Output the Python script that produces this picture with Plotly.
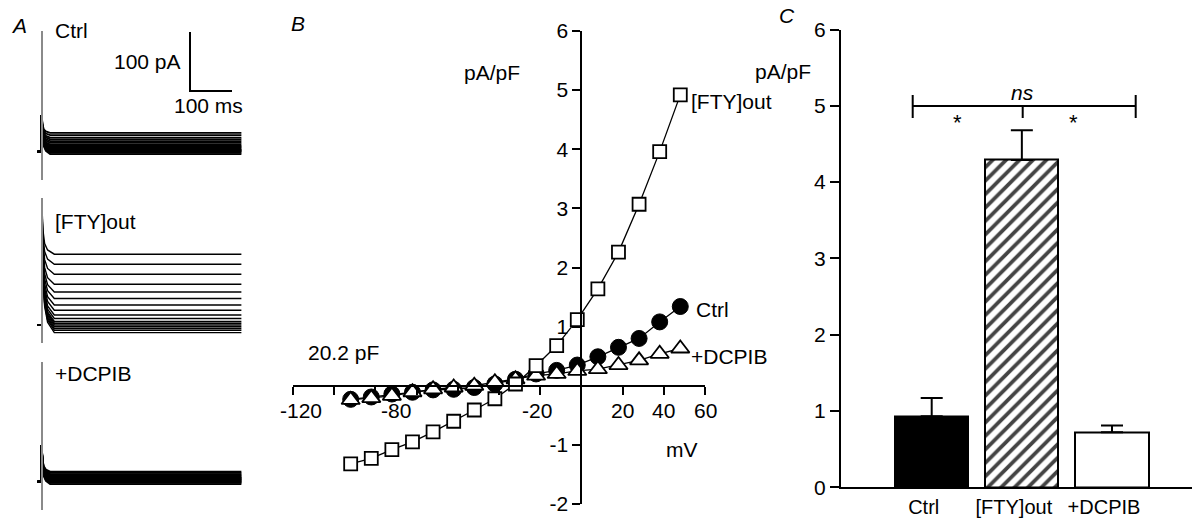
import plotly.graph_objects as go

W, H = 1192, 521
FONT = "Liberation Sans, Arial, sans-serif"
FS = 21

# ---------------- Panel B: current-voltage relation (pA/pF) ----------------
voltage_mV = [-112, -102, -92, -82, -72, -62, -52, -42, -32, -22, -12, -2, 8, 18, 28, 38, 48]
iv_ctrl = [-0.23, -0.19, -0.14, -0.11, -0.07, -0.06, -0.03, 0.03, 0.11, 0.20, 0.26, 0.35, 0.49, 0.65, 0.80, 1.08, 1.34]
iv_fty = [-1.32, -1.23, -1.08, -0.95, -0.78, -0.60, -0.41, -0.22, 0.03, 0.34, 0.68, 1.12, 1.64, 2.26, 3.07, 3.96, 4.92]
iv_dcpib = [-0.24, -0.21, -0.17, -0.11, -0.06, -0.03, 0.00, 0.06, 0.11, 0.17, 0.20, 0.25, 0.28, 0.35, 0.43, 0.54, 0.63]
b_xtick_vals = [-140, -120, -100, -80, -60, -40, -20, 0, 20, 40, 60]
b_xlabel_text = ["-120", "-80", "-20", "20", "40", "60"]
b_xlabel_pos = [-136, -90, -21.5, 20, 40, 60]
b_ytick_vals = [-2, -1, 0, 1, 2, 3, 4, 5, 6]
b_ytick_text = ["-2", "-1", "", "1", "2", "3", "4", "5", "6"]

# ---------------- Panel C: mean current density at +48 mV ----------------
groups = ["Ctrl", "[FTY]out", "+DCPIB"]
mean_density = [0.93, 4.29, 0.72]
sem_density = [0.24, 0.39, 0.09]
c_ytick_vals = [0, 1, 2, 3, 4, 5, 6]

# ---------------- Panel A: whole-cell current traces (pA vs ms) ----------------
levels_ctrl = [32, 28, 24, 21, 18, 15, 12, 10, 8, 6, 4, 3, 2, 1, 0, -2, -4]
levels_fty = [120, 103, 86, 69, 56, 45, 34, 25, 17, 11, 6, 3, 0, -3, -6, -9, -13]
levels_dcpib = [17, 15, 13, 11, 10, 8, 7, 6, 5, 4, 3, 2, 1, 0, -1, -2, -4]
spike_ctrl, spike_fty, spike_dcpib = 62, 210, 62
transient_t_fast = [0, 2, 5, 10, 20]
transient_t_slow = [0, 3, 7, 14, 30]
transient_frac = [1.0, 0.45, 0.2, 0.08, 0.0]
holding_t, end_t = -10, 476
scale_bar_ms, scale_bar_pA = 100, 100

fig = go.Figure()

def px(x):
    return x / W

def py(y):
    return 1 - y / H

# ---- panel A axes geometry (pixels)
A_T0 = 41.7          # pixel x of t = 0
A_PX_PER_MS = 0.42
A_PX_PER_PA = 0.59
A_XMIN = -12
a_xdom = [px(A_T0 + A_XMIN * A_PX_PER_MS), px(A_T0 + end_t * A_PX_PER_MS)]
a_rows = [  # (top px, bottom px, baseline px)
    (31, 180, 151.7),
    (198, 343, 325.0),
    (362, 510, 481.7),
]

def add_recording(levels, spike, tt, ax_idx, width):
    for lv in levels:
        xs = [holding_t, 0] + tt + [end_t]
        ys = [0, 0] + [lv + (spike - lv) * f for f in transient_frac] + [lv]
        fig.add_trace(go.Scatter(
            x=xs, y=ys, mode="lines", line=dict(color="black", width=width),
            xaxis=f"x{ax_idx}", yaxis=f"y{ax_idx}", hoverinfo="skip", showlegend=False))

add_recording(levels_ctrl, spike_ctrl, transient_t_fast, 4, 1.8)
add_recording(levels_fty, spike_fty, transient_t_slow, 5, 1.4)
add_recording(levels_dcpib, spike_dcpib, transient_t_fast, 6, 1.8)

# scale bar (in Ctrl axes)
sb_t0 = (190 - A_T0) / A_PX_PER_MS
sb_y0 = (151.7 - 91) / A_PX_PER_PA
fig.add_trace(go.Scatter(
    x=[sb_t0, sb_t0, sb_t0 + scale_bar_ms], y=[sb_y0 + scale_bar_pA, sb_y0, sb_y0],
    mode="lines", line=dict(color="black", width=2), xaxis="x4", yaxis="y4",
    hoverinfo="skip", showlegend=False))

for i, (top, bot, base) in enumerate(a_rows):
    k = 4 + i
    yr = [-(bot - base) / A_PX_PER_PA, (base - top) / A_PX_PER_PA]
    fig.layout[f"xaxis{k}"] = dict(domain=a_xdom, range=[A_XMIN, end_t], visible=False,
                                   anchor=f"y{k}", fixedrange=True, automargin=False)
    fig.layout[f"yaxis{k}"] = dict(domain=[py(bot), py(top)], range=yr, anchor="free",
                                   position=px(A_T0), showline=True, linecolor="#8a8a8a",
                                   linewidth=1.5, ticks="", showticklabels=False,
                                   showgrid=False, zeroline=False, fixedrange=True,
                                   automargin=False)

# ---- panel B traces
line_kw = dict(color="black", width=1.3)
fig.add_trace(go.Scatter(x=voltage_mV, y=iv_ctrl, mode="lines+markers", line=line_kw,
                         marker=dict(symbol="circle", size=16, color="black",
                                     line=dict(color="black", width=1)),
                         xaxis="x2", yaxis="y2", showlegend=False, cliponaxis=False))
fig.add_trace(go.Scatter(x=voltage_mV, y=iv_dcpib, mode="lines+markers", line=line_kw,
                         marker=dict(symbol="triangle-up", size=16, color="white",
                                     line=dict(color="black", width=1.8)),
                         xaxis="x2", yaxis="y2", showlegend=False, cliponaxis=False))
fig.add_trace(go.Scatter(x=voltage_mV, y=iv_fty, mode="lines+markers", line=line_kw,
                         marker=dict(symbol="square", size=13, color="white",
                                     line=dict(color="black", width=1.8)),
                         xaxis="x2", yaxis="y2", showlegend=False, cliponaxis=False))

B_X0, B_X1 = 293, 705
B_Y0, B_Y1 = 504, 31  # pixel of y=-2 and y=6
bxr, byr = [-140, 60], [-2, 6]
b_xdom = [px(B_X0), px(B_X1)]
b_ydom = [py(B_Y0), py(B_Y1)]
x_axis_pos = b_ydom[0] + (0 - byr[0]) / (byr[1] - byr[0]) * (b_ydom[1] - b_ydom[0])
y_axis_pos = b_xdom[0] + (0 - bxr[0]) / (bxr[1] - bxr[0]) * (b_xdom[1] - b_xdom[0])

fig.layout.xaxis2 = dict(domain=b_xdom, range=bxr, anchor="free", position=x_axis_pos,
                         showline=True, linecolor="black", linewidth=2, ticks="outside",
                         ticklen=8, tickwidth=2, tickcolor="black", tickvals=b_xtick_vals,
                         showticklabels=False, showgrid=False, zeroline=False,
                         fixedrange=True, automargin=False)
fig.layout.yaxis2 = dict(domain=b_ydom, range=byr, anchor="free", position=y_axis_pos,
                         showline=True, linecolor="black", linewidth=2, ticks="outside",
                         ticklen=8, tickwidth=2, tickcolor="black", tickvals=b_ytick_vals,
                         ticktext=b_ytick_text, tickfont=dict(size=FS, color="black", family=FONT),
                         showgrid=False, zeroline=False, fixedrange=True, automargin=False)

annotations = []
for t, xv in zip(b_xlabel_text, b_xlabel_pos):
    annotations.append(dict(text=t, x=xv, xref="x2", y=0, yref="y2", yanchor="top",
                            yshift=-11, showarrow=False,
                            font=dict(size=FS, color="black", family=FONT)))

# ---- panel C bars
fig.add_trace(go.Bar(
    x=[0, 1, 2], y=mean_density, width=0.81,
    marker=dict(color=["black", "white", "white"], line=dict(color="black", width=2),
                pattern=dict(shape=["", "/", ""], fgcolor="black", bgcolor="white",
                             fgopacity=1, size=9.5, solidity=0.4)),
    error_y=dict(type="data", array=sem_density, arrayminus=[0, 0, 0], symmetric=False,
                 color="black", thickness=2, width=11),
    xaxis="x3", yaxis="y3", showlegend=False))

C_Y0, C_PX_PER_UNIT = 487.3, 76.3
C_X0, C_PX_PER_CAT = 931.7, 90.15
c_xr = [(841 - C_X0) / C_PX_PER_CAT, (W - C_X0) / C_PX_PER_CAT]
fig.layout.xaxis3 = dict(domain=[px(841), 1.0], range=c_xr, anchor="y3", showline=True,
                         linecolor="black", linewidth=2, ticks="", tickvals=[0, 1, 2],
                         ticktext=groups, ticklabelshift=-8, ticklabelstandoff=1,
                         tickfont=dict(size=20, color="black", family=FONT),
                         showgrid=False, zeroline=False, fixedrange=True, automargin=False)
fig.layout.yaxis3 = dict(domain=[py(C_Y0), py(C_Y0 - 6 * C_PX_PER_UNIT)], range=[0, 6],
                         anchor="x3", showline=True, linecolor="black", linewidth=2,
                         ticks="outside", ticklen=9, tickwidth=2, tickcolor="black",
                         tickvals=c_ytick_vals, tickfont=dict(size=FS, color="black", family=FONT),
                         showgrid=False, zeroline=False, fixedrange=True, automargin=False)

def cx(p):
    return (p - C_X0) / C_PX_PER_CAT

def cy(p):
    return (C_Y0 - p) / C_PX_PER_UNIT

shapes = []
br_l, br_r, br_m = cx(912.7), cx(1135.7), cx(1022.7)
seg = [(br_l, cy(106), br_r, cy(106)), (br_l, cy(95), br_l, cy(118)),
       (br_r, cy(95), br_r, cy(118)), (br_m, cy(106), br_m, cy(118))]
for x0, y0, x1, y1 in seg:
    shapes.append(dict(type="line", xref="x3", yref="y3", x0=x0, y0=y0, x1=x1, y1=y1,
                       line=dict(color="black", width=2)))

def txt(t, x, y, size=FS, xanchor="center", yanchor="middle", italic=False):
    s = f"<i>{t}</i>" if italic else t
    annotations.append(dict(text=s, x=px(x), y=py(y), xref="paper", yref="paper",
                            xanchor=xanchor, yanchor=yanchor, showarrow=False,
                            font=dict(size=size, color="black", family=FONT)))

txt("ns", 1022.7, 92, italic=True)
txt("*", 957.7, 122, size=22)
txt("*", 1073, 122, size=22)
txt("C", 787, 16, size=21, italic=True)
txt("pA/pF", 783, 71)

# panel B text
txt("B", 298, 24, size=21, italic=True)
txt("pA/pF", 492, 72)
txt("mV", 682, 449)
txt("20.2 pF", 343, 352)
txt("[FTY]out", 689, 101, xanchor="left")
txt("Ctrl", 694, 309, xanchor="left")
txt("+DCPIB", 689, 356, xanchor="left")

# panel A text
txt("A", 19, 25, size=21, italic=True)
txt("Ctrl", 53, 31, xanchor="left")
txt("100 pA", 147, 62)
txt("100 ms", 208, 106)
txt("[FTY]out", 53, 221, xanchor="left")
txt("+DCPIB", 53, 373, xanchor="left")

fig.update_layout(width=W, height=H, autosize=False, margin=dict(l=0, r=0, t=0, b=0, autoexpand=False),
                  paper_bgcolor="white", plot_bgcolor="white", showlegend=False,
                  annotations=annotations, shapes=shapes, bargap=0,
                  font=dict(family=FONT, color="black"))

fig.write_html("out.html", config={"displayModeBar": False})
